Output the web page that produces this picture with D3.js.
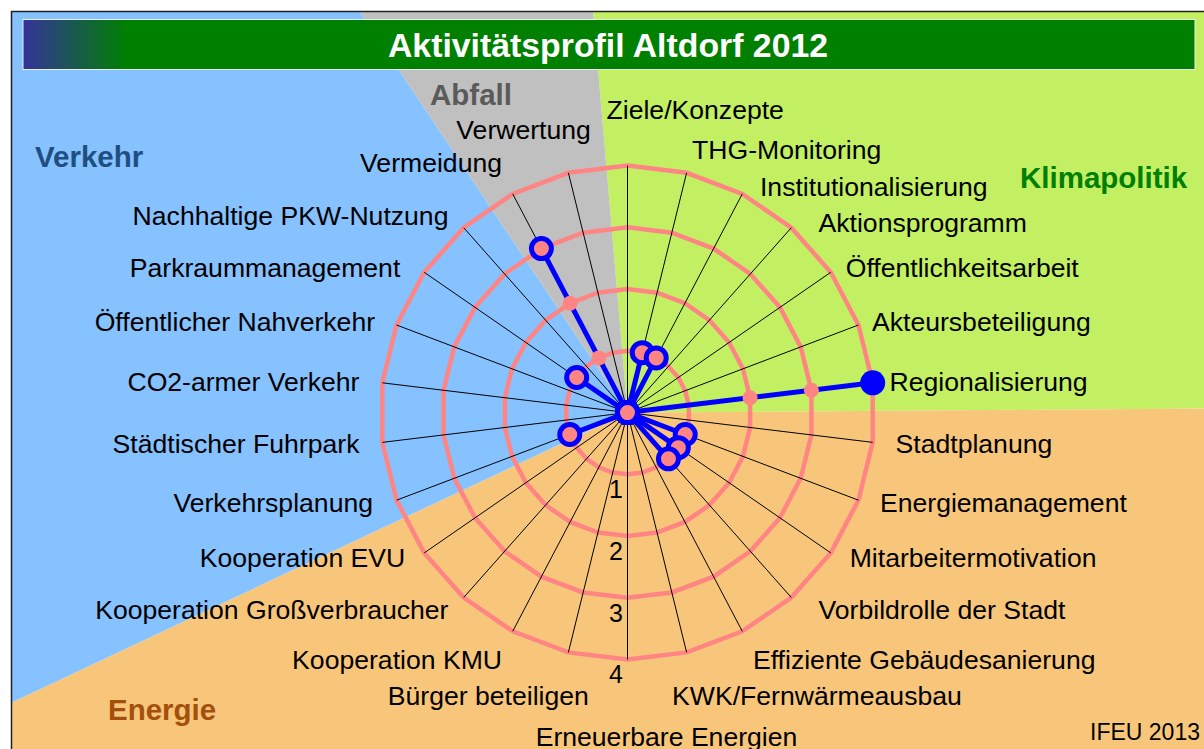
<!DOCTYPE html>
<html>
<head>
<meta charset="utf-8">
<script src="https://cdn.jsdelivr.net/npm/d3@7"></script>
<style>
  html, body { margin: 0; padding: 0; background: #fff; }
  svg { display: block; font-family: "Liberation Sans", Arial, sans-serif; }
</style>
</head>
<body>
<svg id="chart" width="1204" height="749"></svg>
<script>
// ---- data ----
const categories = [
  'Ziele/Konzepte', 'THG-Monitoring', 'Institutionalisierung', 'Aktionsprogramm',
  'Öffentlichkeitsarbeit', 'Akteursbeteiligung', 'Regionalisierung', 'Stadtplanung',
  'Energiemanagement', 'Mitarbeitermotivation', 'Vorbildrolle der Stadt',
  'Effiziente Gebäudesanierung', 'KWK/Fernwärmeausbau', 'Erneuerbare Energien',
  'Bürger beteiligen', 'Kooperation KMU', 'Kooperation Großverbraucher', 'Kooperation EVU',
  'Verkehrsplanung', 'Städtischer Fuhrpark', 'CO2-armer Verkehr', 'Öffentlicher Nahverkehr',
  'Parkraummanagement', 'Nachhaltige PKW-Nutzung', 'Vermeidung', 'Verwertung'
];
const values = [0, 1, 1, 0, 0, 0, 4, 0, 1, 1, 1, 0, 0, 0, 0, 0, 0, 0, 1, 0, 0, 0, 1, 0, 3, 0];
// pink markers sitting on the rings along some lines
const ringDots = [
  { cat: 'Regionalisierung', v: 2 }, { cat: 'Regionalisierung', v: 3 },
  { cat: 'Vermeidung', v: 1 }, { cat: 'Vermeidung', v: 2 }
];
const fullMarks = ['Regionalisierung'];
const ringTicks = [1, 2, 3, 4];

// sector backgrounds (start/end angle in degrees, clockwise from top)
const sectorNames = ['Klimapolitik', 'Energie', 'Verkehr', 'Abfall'];
const sectorColors = ['#c2f062', '#f8c67a', '#85c2ff', '#c0c0c0'];
const sectorBounds = [[-4.9, 89.6], [89.6, 244.8], [244.8, 326.3], [326.3, 355.1]];
const headingColors = ['#008000', '#a3500c', '#1f4e82', '#5a5a5a'];

const title = 'Aktivitätsprofil Altdorf 2012';
const source = 'IFEU 2013';

// ---- layout ----
const W = 1204, H = 749;
const cx = 627.5, cy = 412.6, R = 247;
const headingPos = [[1020, 178], [108, 710], [35, 157], [430, 95]];
const labelNudge = { 0: [-21, -9], 1: [0, 20], 2: [7, 24], 3: [12, 7], 4: [-4, 0], 5: [-8, 0],
                     6: [-6, 0], 10: [12, 0], 11: [0, -3], 12: [-20, 0], 13: [39, 30],
                     14: [26, 0], 15: [0, -3], 18: [-2, 0], 22: [-5, 0], 25: [28, 0] };

const svg = d3.select('#chart');
const n = categories.length;
const angle = i => i * 2 * Math.PI / n;
const r = d3.scaleLinear().domain([0, 4]).range([0, R]);
const px = (i, v) => cx + r(v) * Math.sin(angle(i));
const py = (i, v) => cy - r(v) * Math.cos(angle(i));

// sectors
const far = 2000, rad = d => d * Math.PI / 180;
svg.append('g').selectAll('path')
  .data(sectorBounds)
  .join('path')
  .attr('d', (b, k) => {
    const pts = d3.range(b[0], b[1] + 0.01, (b[1] - b[0]) / 12)
      .map(a => [cx + far * Math.sin(rad(a)), cy - far * Math.cos(rad(a))]);
    return 'M' + [[cx, cy], ...pts].join('L') + 'Z';
  })
  .attr('fill', (b, k) => sectorColors[k]);

// white margin and frame
svg.append('path')
  .attr('d', `M0,0H${W}V11H11V${H}H0Z`)
  .attr('fill', '#fff');
svg.append('path')
  .attr('d', `M11.5,${H}V11.5H${W}`)
  .attr('fill', 'none').attr('stroke', '#222').attr('stroke-width', 1.5);

// title bar
const grad = svg.append('defs').append('linearGradient')
  .attr('id', 'tg').attr('x1', 0).attr('x2', 1).attr('y1', 0).attr('y2', 0);
grad.append('stop').attr('offset', 0).attr('stop-color', '#343399');
grad.append('stop').attr('offset', 0.089).attr('stop-color', '#008000');
svg.append('rect')
  .attr('x', 23).attr('y', 19.5).attr('width', 1172).attr('height', 50)
  .attr('fill', 'url(#tg)').attr('stroke', '#e8f0e8').attr('stroke-width', 1);
svg.append('text')
  .attr('x', 608).attr('y', 45).attr('dy', '0.35em')
  .attr('text-anchor', 'middle')
  .attr('fill', '#fff').attr('font-weight', 'bold').attr('font-size', 33.8)
  .text(title);

// rings
const ringLine = d3.lineRadial()
  .angle((d, i) => angle(i))
  .curve(d3.curveLinearClosed);
svg.append('g').selectAll('path')
  .data(ringTicks)
  .join('path')
  .attr('transform', `translate(${cx},${cy})`)
  .attr('d', t => ringLine.radius(r(t))(categories))
  .attr('fill', 'none').attr('stroke', '#ff8585').attr('stroke-width', 4.5)
  .attr('stroke-linejoin', 'miter');

// spokes
svg.append('g').selectAll('line')
  .data(categories)
  .join('line')
  .attr('x1', cx).attr('y1', cy)
  .attr('x2', (d, i) => px(i, 4)).attr('y2', (d, i) => py(i, 4))
  .attr('stroke', '#000').attr('stroke-width', 1);

// series lines
const pts = values.map((v, i) => ({ cat: categories[i], i, v }));
svg.append('g').selectAll('line')
  .data(pts.filter(d => d.v > 0))
  .join('line')
  .attr('x1', cx).attr('y1', cy)
  .attr('x2', d => px(d.i, d.v)).attr('y2', d => py(d.i, d.v))
  .attr('stroke', '#0000ff').attr('stroke-width', 5);

// pink ring dots
svg.append('g').selectAll('circle')
  .data(ringDots)
  .join('circle')
  .attr('cx', d => px(categories.indexOf(d.cat), d.v))
  .attr('cy', d => py(categories.indexOf(d.cat), d.v))
  .attr('r', 7.5)
  .attr('fill', '#ff8585');

// markers (zero values sit on the centre)
svg.append('g').selectAll('circle')
  .data(pts.filter(d => !fullMarks.includes(d.cat)))
  .join('circle')
  .attr('cx', d => px(d.i, d.v)).attr('cy', d => py(d.i, d.v))
  .attr('r', 10)
  .attr('fill', '#ff8585').attr('stroke', '#0000ff').attr('stroke-width', 5);
svg.append('g').selectAll('circle')
  .data(pts.filter(d => fullMarks.includes(d.cat)))
  .join('circle')
  .attr('cx', d => px(d.i, d.v)).attr('cy', d => py(d.i, d.v))
  .attr('r', 12.5)
  .attr('fill', '#0000ff');

// category labels
function labelPos(i) {
  const s = Math.sin(angle(i)), c = Math.cos(angle(i));
  const x = cx + 270 * s;
  const y = cy - 255 * c - Math.sign(c) * 130 * Math.max(0, Math.abs(c) - 0.7);
  const anchor = s > 0.05 ? 'start' : s < -0.05 ? 'end' : (c > 0 ? 'start' : 'middle');
  const nd = labelNudge[i] || [0, 0];
  return { x: x + nd[0], y: y + nd[1], anchor };
}
svg.append('g').selectAll('text')
  .data(categories)
  .join('text')
  .each(function (d, i) {
    const p = labelPos(i);
    d3.select(this).attr('x', p.x).attr('y', p.y).attr('text-anchor', p.anchor);
  })
  .attr('dy', '0.35em')
  .attr('font-size', 26.6).attr('fill', '#000')
  .text(d => d);

// ring values
svg.append('g').selectAll('text')
  .data(ringTicks)
  .join('text')
  .attr('x', 623).attr('y', t => cy + r(t) + 15).attr('dy', '0.35em')
  .attr('text-anchor', 'end').attr('font-size', 25)
  .text(t => t);

// sector headings
svg.append('g').selectAll('text')
  .data(sectorNames)
  .join('text')
  .attr('x', (d, k) => headingPos[k][0]).attr('y', (d, k) => headingPos[k][1])
  .attr('dy', '0.35em')
  .attr('font-size', 29.5).attr('font-weight', 'bold')
  .attr('fill', (d, k) => headingColors[k])
  .text(d => d);

// source
svg.append('text')
  .attr('x', 1200).attr('y', 740)
  .attr('text-anchor', 'end').attr('font-size', 23)
  .text(source);
</script>
</body>
</html>
